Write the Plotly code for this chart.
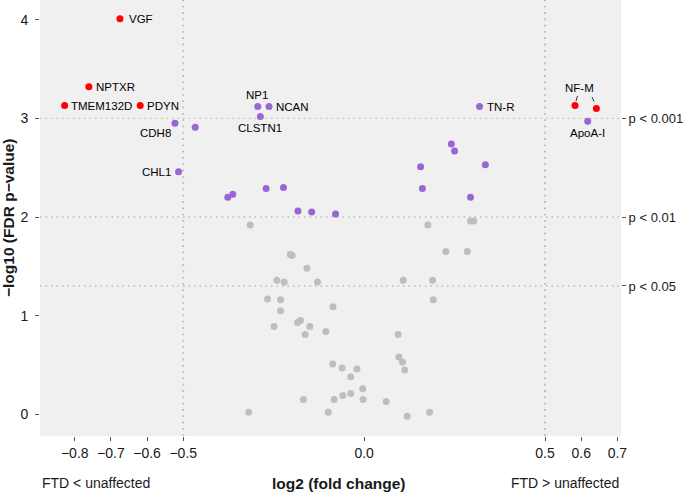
import numpy as np
import plotly.graph_objects as go

# FDR < 0.001 y |log2FC| > 0.5 (rojo)
red_names = ["VGF", "NPTXR", "TMEM132D", "PDYN", "NF-M", "NF-M"]
red_log2fc = [-0.675, -0.761, -0.828, -0.619, 0.583, 0.642]
red_logp = [4.01, 3.32, 3.13, 3.13, 3.13, 3.10]

# FDR < 0.01 (morado)
purple_names = ["CDH8", "", "CHL1", "NP1", "NCAN", "CLSTN1",
                "", "", "", "", "", "", "",
                "TN-R", "", "", "", "", "", "", "ApoA-I"]
purple_log2fc = [-0.523, -0.467, -0.513, -0.294, -0.263, -0.287,
                 -0.377, -0.363, -0.271, -0.223, -0.183, -0.145, -0.079,
                 0.319, 0.241, 0.250, 0.156, 0.335, 0.161, 0.294, 0.618]
purple_logp = [2.95, 2.91, 2.46, 3.12, 3.12, 3.02,
               2.20, 2.23, 2.29, 2.30, 2.06, 2.05, 2.03,
               3.12, 2.74, 2.67, 2.51, 2.53, 2.29, 2.20, 2.97]

# no significativas (gris)
grey_log2fc = [0.176, 0.294, 0.303, 0.226, 0.285, 0.108, 0.189, 0.191,
               -0.315, -0.204, -0.199, -0.158, -0.241, -0.221, -0.129,
               -0.267, -0.231, -0.231, -0.086, -0.249, -0.184, -0.176,
               -0.150, -0.163, -0.106, 0.094, -0.087, -0.061, -0.020,
               -0.037, 0.096, 0.106, 0.112, -0.004, -0.168, -0.083,
               -0.059, -0.037, -0.003, 0.061, -0.319, -0.099, 0.119, 0.181]
grey_logp = [1.92, 1.96, 1.96, 1.65, 1.65, 1.36, 1.36, 1.16,
             1.92, 1.62, 1.61, 1.48, 1.36, 1.34, 1.34,
             1.17, 1.16, 1.05, 1.09, 0.89, 0.93, 0.95,
             0.89, 0.81, 0.84, 0.81, 0.51, 0.47, 0.46,
             0.38, 0.58, 0.53, 0.45, 0.26, 0.15, 0.15,
             0.19, 0.21, 0.15, 0.13, 0.02, 0.02, -0.02, 0.02]

p_cutoffs = [0.001, 0.01, 0.05]
p_labels = ["p < 0.001", "p < 0.01", "p < 0.05"]
fc_cutoffs = [-0.5, 0.5]

x_ticks = [-0.8, -0.7, -0.6, -0.5, 0.0, 0.5, 0.6, 0.7]
x_ticktext = ["\u22120.8", "\u22120.7", "\u22120.6", "\u22120.5", "0.0", "0.5", "0.6", "0.7"]
y_ticks = [0, 1, 2, 3, 4]

x_range = [-0.896, 0.710]
y_range = [-0.22, 4.2]

FONT = "Liberation Sans, Arial, Helvetica, sans-serif"
TXT = "#1a1a1a"

# posición de las etiquetas (ancla, desplazamiento x, desplazamiento y en px)
label_pos = {
    "VGF": ("left", 7, 0),
    "NPTXR": ("left", 5, 0),
    "TMEM132D": ("left", 4, 0),
    "PDYN": ("left", 5, 0),
    "NF-M": ("center", 4, 18),
    "CDH8": ("right", -2, -10),
    "CHL1": ("right", -6, 0),
    "NP1": ("center", -1, 12),
    "NCAN": ("left", 5, 0),
    "CLSTN1": ("center", 0, -12),
    "TN-R": ("left", 5, 0),
    "ApoA-I": ("center", 0, -12),
}

fig = go.Figure()

fig.add_trace(go.Scatter(x=grey_log2fc, y=grey_logp, mode="markers",
                         marker=dict(color="#BEBEBE", size=7), showlegend=False))
fig.add_trace(go.Scatter(x=purple_log2fc, y=purple_logp, mode="markers",
                         marker=dict(color="#9966D6", size=7), showlegend=False))
fig.add_trace(go.Scatter(x=red_log2fc, y=red_logp, mode="markers",
                         marker=dict(color="#FF0000", size=7), showlegend=False))
# eje derecho con los umbrales de p
thr = [-np.log10(p) for p in p_cutoffs]
fig.add_trace(go.Scatter(x=[0] * len(thr), y=thr, yaxis="y2", mode="markers",
                         marker=dict(opacity=0), hoverinfo="skip", showlegend=False))

# líneas punteadas
for t in thr:
    fig.add_shape(type="line", xref="paper", x0=0, x1=1, yref="y", y0=t, y1=t,
                  line=dict(color="#BBBBBB", width=1.4, dash="1.5px,4px"), layer="below")
for c in fc_cutoffs:
    fig.add_shape(type="line", xref="x", x0=c, x1=c, yref="paper", y0=0, y1=1,
                  line=dict(color="#BBBBBB", width=1.8, dash="1.8px,4.5px"), layer="below")

# etiquetas
seen = set()
for names, xs, ys in [(red_names, red_log2fc, red_logp), (purple_names, purple_log2fc, purple_logp)]:
    for n, x, y in zip(names, xs, ys):
        if not n or n in seen:
            continue
        seen.add(n)
        anc, dx, dy = label_pos[n]
        fig.add_annotation(x=x, y=y, text=n, showarrow=False, xanchor=anc, yanchor="middle",
                           xshift=dx, yshift=dy, font=dict(family=FONT, size=11.5, color="black"))

# segmentos de NF-M
i1, i2 = red_names.index("NF-M"), len(red_names) - 1
for i, (a, b, c, d) in [(i1, (2.4, 1.0, 9.5, 4.5)), (i2, (-4.4, -2.4, 11.5, 7.0))]:
    fig.add_shape(type="line", xref="x", yref="y", xsizemode="pixel", ysizemode="pixel",
                  xanchor=red_log2fc[i], yanchor=red_logp[i], x0=a, x1=b, y0=c, y1=d,
                  line=dict(color="#333333", width=1))

# títulos
fig.add_annotation(xref="paper", yref="paper", x=0, y=0.5, xshift=-32, xanchor="center",
                   yanchor="middle", textangle=-90,
                   text="<b>\u2212log10 (FDR p\u2212value)</b>", showarrow=False,
                   font=dict(family=FONT, size=15.5, color=TXT))
fig.add_annotation(xref="paper", yref="paper", x=0.5146, y=0, yshift=-47, xanchor="center",
                   yanchor="middle", text="<b>log2 (fold change)</b>", showarrow=False,
                   font=dict(family=FONT, size=15.5, color=TXT))
fig.add_annotation(xref="paper", yref="paper", x=0, y=0, yshift=-47, xanchor="left", yanchor="middle",
                   text="FTD &lt; unaffected", showarrow=False,
                   font=dict(family=FONT, size=14, color=TXT))
fig.add_annotation(xref="paper", yref="paper", x=1, y=0, yshift=-47, xanchor="right", yanchor="middle",
                   text="FTD &gt; unaffected", showarrow=False,
                   font=dict(family=FONT, size=14, color=TXT))

fig.update_layout(
    width=685, height=492,
    margin=dict(l=40, r=64, t=0, b=56),
    paper_bgcolor="white", plot_bgcolor="#F0F0F0",
    font=dict(family=FONT, size=14, color=TXT),
    xaxis=dict(range=x_range, tickvals=x_ticks, ticktext=x_ticktext, ticks="outside",
               ticklen=4, tickcolor="#555555", showgrid=False, zeroline=False, showline=False,
               tickfont=dict(size=14), automargin=False),
    yaxis=dict(range=y_range, tickvals=y_ticks, ticks="outside", ticklen=4,
               tickcolor="#555555", showgrid=False, zeroline=False, showline=False,
               tickfont=dict(size=14), automargin=False, ticklabelstandoff=4),
    yaxis2=dict(range=y_range, overlaying="y", side="right", tickvals=thr, ticktext=p_labels,
                ticks="outside", ticklen=4, tickcolor="#555555", showgrid=False,
                zeroline=False, showline=False, tickfont=dict(size=13), automargin=False),
)

fig.write_html("out.html", config={"displayModeBar": False},
               post_script="document.body.style.margin='0';document.body.style.overflow='hidden';")
